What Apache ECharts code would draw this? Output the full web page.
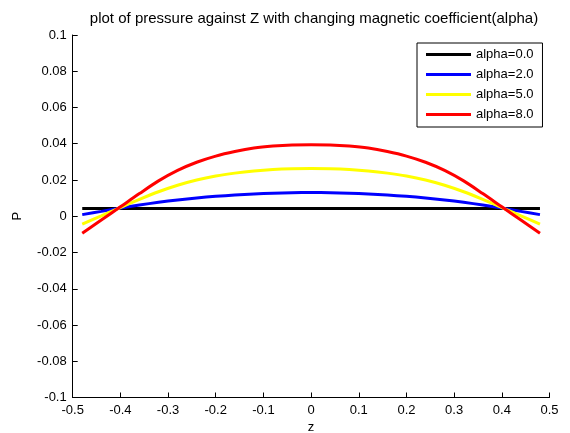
<!DOCTYPE html>
<html>
<head>
<meta charset="utf-8">
<script src="https://cdn.jsdelivr.net/npm/echarts@6/dist/echarts.min.js"></script>
<style>
  html, body { margin: 0; padding: 0; background: #fff; }
  #main { width: 570px; height: 433px; }
</style>
</head>
<body>
<div id="main"></div>
<script>
// z positions of the read points
var zVals = [-0.48, -0.44, -0.40, -0.36, -0.32, -0.28, -0.24, -0.20, -0.16, -0.12, -0.08, -0.04, 0,
             0.04, 0.08, 0.12, 0.16, 0.20, 0.24, 0.28, 0.32, 0.36, 0.40, 0.44, 0.48];

// pressure P for each alpha
var alpha0 = [0.0043, 0.0043, 0.0043, 0.0043, 0.0043, 0.0043, 0.0043, 0.0043, 0.0043, 0.0043, 0.0043, 0.0043, 0.0043,
              0.0043, 0.0043, 0.0043, 0.0043, 0.0043, 0.0043, 0.0043, 0.0043, 0.0043, 0.0043, 0.0043, 0.0043];
var alpha2 = [0.0009, 0.0027, 0.0045, 0.0062, 0.0077, 0.0090, 0.0101, 0.0110, 0.0117, 0.0123, 0.0127, 0.0130, 0.0131,
              0.0130, 0.0127, 0.0123, 0.0117, 0.0110, 0.0101, 0.0090, 0.0077, 0.0062, 0.0045, 0.0027, 0.0009];
var alpha5 = [-0.0044, 0.0002, 0.0048, 0.0093, 0.0135, 0.0171, 0.0200, 0.0222, 0.0238, 0.0250, 0.0258, 0.0262, 0.0263,
              0.0262, 0.0258, 0.0250, 0.0238, 0.0222, 0.0200, 0.0171, 0.0135, 0.0093, 0.0048, 0.0002, -0.0044];
var alpha8 = [-0.0094, -0.0021, 0.0052, 0.0125, 0.0195, 0.0253, 0.0298, 0.0332, 0.0357, 0.0376, 0.0387, 0.0393, 0.0394,
              0.0393, 0.0387, 0.0376, 0.0357, 0.0332, 0.0298, 0.0253, 0.0195, 0.0125, 0.0052, -0.0021, -0.0094];

var seriesNames = ['alpha=0.0', 'alpha=2.0', 'alpha=5.0', 'alpha=8.0'];
var seriesColors = ['#000000', '#0000ff', '#ffff00', '#ff0000'];

var FONT = '"Liberation Sans", Arial, sans-serif';

function pairs(ys) {
  return zVals.map(function (z, i) { return [z, ys[i]]; });
}

// strip float noise from tick values
function tidy(v) {
  return String(parseFloat(v.toFixed(3)));
}

var chart = echarts.init(document.getElementById('main'), null, { renderer: 'canvas' });

var allData = [alpha0, alpha2, alpha5, alpha8];

var option = {
  backgroundColor: '#fff',
  animation: false,
  title: {
    text: 'plot of pressure against Z with changing magnetic coefficient(alpha)',
    left: 309,
    top: 6,
    textAlign: 'center',
    textStyle: { fontFamily: FONT, fontSize: 15, fontWeight: 'normal', color: '#000' }
  },
  legend: {
    orient: 'vertical',
    left: 417,
    top: 43,
    padding: [5, 9, 6, 9],
    itemWidth: 45,
    itemHeight: 3,
    itemGap: 7,
    borderColor: '#000',
    borderWidth: 1,
    backgroundColor: '#fff',
    data: seriesNames.map(function (n) { return { name: n, icon: 'rect' }; }),
    textStyle: { fontFamily: FONT, fontSize: 13, color: '#000' }
  },
  grid: { left: 72.7, right: 20.5, top: 35, bottom: 35.5, containLabel: false, outerBoundsMode: 'none' },
  xAxis: {
    type: 'value',
    min: -0.5,
    max: 0.5,
    interval: 0.1,
    name: 'z',
    nameLocation: 'middle',
    nameGap: 21,
    nameTextStyle: { fontFamily: FONT, fontSize: 13, color: '#000' },
    axisLine: { onZero: false, lineStyle: { color: '#000', width: 1 } },
    axisTick: { inside: true, length: 5, lineStyle: { color: '#000' } },
    axisLabel: { fontFamily: FONT, fontSize: 13, color: '#000', margin: 6, formatter: tidy },
    splitLine: { show: false }
  },
  yAxis: {
    type: 'value',
    min: -0.1,
    max: 0.1,
    interval: 0.02,
    name: 'P',
    nameLocation: 'middle',
    nameGap: 49,
    nameTextStyle: { fontFamily: FONT, fontSize: 13, color: '#000' },
    axisLine: { show: true, onZero: false, lineStyle: { color: '#000', width: 1 } },
    axisTick: { show: true, inside: true, length: 5, lineStyle: { color: '#000' } },
    axisLabel: { fontFamily: FONT, fontSize: 13, color: '#000', margin: 6, formatter: tidy },
    splitLine: { show: false }
  },
  series: seriesNames.map(function (n, i) {
    return {
      name: n,
      type: 'line',
      smooth: 0.3,
      symbol: 'none',
      color: seriesColors[i],
      lineStyle: { color: seriesColors[i], width: 3 },
      itemStyle: { color: seriesColors[i] },
      data: pairs(allData[i])
    };
  })
};

chart.setOption(option);
</script>
</body>
</html>
